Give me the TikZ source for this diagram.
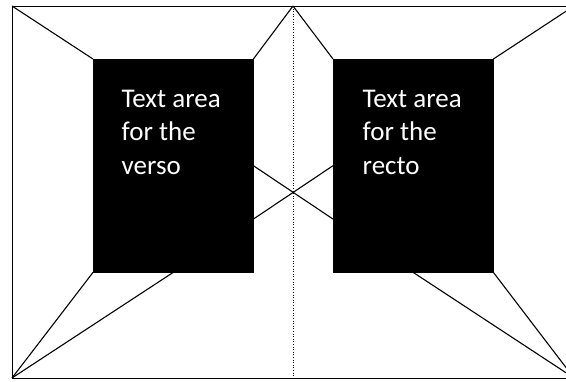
\documentclass[tikz,border=0pt]{standalone}
\usepackage{fontspec}
\setmainfont{Carlito}
\usetikzlibrary{calc}
\tikzset{
  textarea/.style={fill=black, draw=black, anchor=north west, inner sep=0pt,
    minimum width=160pt, minimum height=213pt},
  areatext/.style={text=white, anchor=north west, inner sep=0pt, align=left,
    font=\fontsize{27}{33.5}\selectfont},
  rule/.style={line width=1.1pt}
}
\begin{document}
\begin{tikzpicture}[x=1pt,y=-1pt]
\useasboundingbox (0,0) rectangle (566,381);
\clip (0,0) rectangle (566,381);
\coordinate (tl) at (12,6);
\coordinate (tr) at (574,6);
\coordinate (bl) at (12,378);
\coordinate (br) at (574,378);
\coordinate (st) at (293,6);
\coordinate (sb) at (293,378);

\node [textarea] (verso) at (93,59) {};
\node [textarea] (recto) at (333,59) {};
\node [areatext] (vt) at ([shift={(28.5,30.5)}]verso.north west) {Text area\\for the\\verso};
\node [areatext] (rt) at ([shift={(29.5,30.5)}]recto.north west) {Text area\\for the\\recto};

\coordinate (v3) at ($(verso.north east)!0.75!(verso.south east)$);
\coordinate (r3) at ($(recto.north west)!0.75!(recto.south west)$);

\draw [line width=0.9pt] (tl) rectangle (br);
\draw [line width=0.8pt, dash pattern=on 1pt off 1.6pt] (st) -- (sb);

\draw [rule] (tl) -- (verso.north west);
\draw [rule] (st) -- (verso.north east);
\draw [rule] (st) -- (recto.north west);
\draw [rule] (tr) -- (recto.north east);
\draw [rule] (bl) -- (verso.south west);
\draw [rule] (bl) -- (verso.south);
\draw [rule] (br) -- (recto.south);
\draw [rule] (br) -- (recto.south east);
\draw [rule] (verso.east) -- (r3);
\draw [rule] (v3) -- (recto.west);
\end{tikzpicture}
\end{document}
